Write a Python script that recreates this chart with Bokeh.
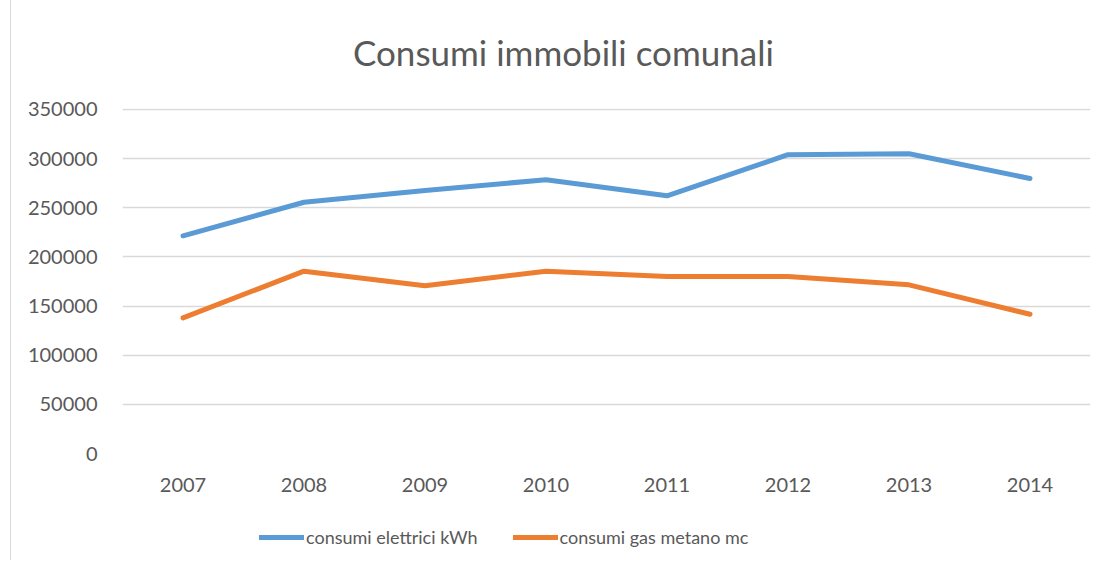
from bokeh.plotting import figure
from bokeh.models import Legend, LegendItem, Range1d, FactorRange, Div
from bokeh.layouts import column
from bokeh.embed import file_html
from bokeh.resources import INLINE

title_text = "Consumi immobili comunali"
years = ["2007", "2008", "2009", "2010", "2011", "2012", "2013", "2014"]
elettrici = [221500, 255600, 267600, 278500, 262200, 304000, 305000, 279800]
gas = [138000, 185500, 170600, 185500, 180000, 180000, 171600, 141700]
y_ticks = [0, 50000, 100000, 150000, 200000, 250000, 300000, 350000]
series_names = ["consumi elettrici kWh", "consumi gas metano mc"]
colors = ["#5B9BD5", "#ED7D31"]

FONT = "Lato"
TXT = "#595959"

head = Div(text=('<div style="padding-top:31px; padding-left:342px; font-family:Lato; '
                 'font-size:35px; line-height:42px; color:#595959; white-space:nowrap;">'
                 + title_text + '</div>'),
           width=1093, height=92, margin=0)

p = figure(x_range=FactorRange(*years), y_range=Range1d(0, 351000),
           frame_width=968, frame_height=345,
           min_border_left=111, min_border_top=16, min_border_right=14, min_border_bottom=57,
           output_backend="svg", toolbar_location=None)
p.outline_line_color = None
p.background_fill_color = "white"
p.border_fill_color = "white"

for vals, c in zip([elettrici, gas], colors):
    p.line(years, vals, line_color=c, line_width=5, line_cap="round", line_join="round")

p.yaxis.ticker = y_ticks
p.yaxis.formatter.use_scientific = False
for ax in (p.xaxis[0], p.yaxis[0]):
    ax.axis_line_color = None
    ax.major_tick_line_color = None
    ax.minor_tick_line_color = None
    ax.major_tick_out = 0
    ax.major_tick_in = 0
    ax.major_label_text_font = FONT
    ax.major_label_text_font_size = "20px"
    ax.major_label_text_color = TXT
p.yaxis.major_label_standoff = 25
p.xaxis.major_label_standoff = 24
p.xgrid.grid_line_color = None
p.ygrid.grid_line_color = "#d9d9d9"
p.ygrid.grid_line_width = 1.5
p.x_range.range_padding = 0

# legend strip below the chart (same series, drawn out of view)
L = figure(x_range=FactorRange(*years), y_range=Range1d(400000, 500000),
           frame_width=1093, frame_height=50,
           min_border_left=0, min_border_right=0, min_border_top=0, min_border_bottom=0,
           x_axis_location=None, y_axis_location=None,
           output_backend="svg", toolbar_location=None)
L.outline_line_color = None
L.xgrid.grid_line_color = None
L.ygrid.grid_line_color = None
L.background_fill_color = "white"
L.border_fill_color = "white"
items = []
for vals, c, name in zip([elettrici, gas], colors, series_names):
    r = L.line(years, vals, line_color=c, line_width=5, line_cap="round")
    items.append(LegendItem(label=name, renderers=[r]))
legend = Legend(items=items, orientation="horizontal", location=(248, 12),
                label_text_font=FONT, label_text_font_size="18px", label_text_color=TXT,
                glyph_width=45, label_standoff=2, spacing=35,
                border_line_color=None, background_fill_alpha=0,
                padding=6, margin=0)
L.add_layout(legend, "center")

layout = column(head, p, L, spacing=0,
                styles={"border-left": "1px solid #d9d9d9", "margin-left": "10px"})

open("out.html", "w").write(file_html(layout, INLINE))
